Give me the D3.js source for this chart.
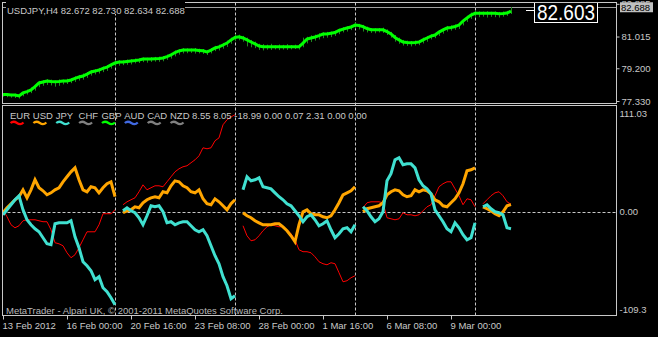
<!DOCTYPE html>
<html>
<head>
<meta charset="utf-8">
<script src="https://cdn.jsdelivr.net/npm/d3@7"></script>
<style>
  html, body { margin: 0; padding: 0; background: #000; }
  svg { display: block; background: #000; }
  text { font-family: "Liberation Sans", Arial, sans-serif; font-size: 9.5px; fill: #c8c8c8; }
</style>
</head>
<body>
<svg id="chart" width="658" height="337"></svg>
<script>
// ---- data (USDJPY H4, 128 bars) ----
const symbolTitle = "USDJPY,H4";
const ohlcNow = ["82.672", "82.730", "82.634", "82.688"];
const bidPrice = 82.688;
const bigLabel = "82.603";

// thick green line, one value per bar
const priceLine = [
  77.70,77.70,77.67,77.67,77.62,77.79,77.87,77.96,78.15,78.36,
  78.42,78.47,78.44,78.43,78.44,78.47,78.47,78.53,78.62,78.70,
  78.76,78.87,78.99,79.04,79.10,79.19,79.27,79.39,79.50,79.56,
  79.56,79.59,79.62,79.64,79.67,79.73,79.73,79.73,79.75,79.76,
  79.79,79.87,79.96,80.10,80.19,80.24,80.24,80.24,80.24,80.22,
  80.20,80.13,80.24,80.36,80.42,80.53,80.64,80.82,80.96,81.00,
  80.93,80.82,80.70,80.59,80.47,80.43,80.43,80.43,80.43,80.43,
  80.43,80.43,80.43,80.43,80.43,80.64,80.87,80.93,80.99,81.07,
  81.16,81.16,81.20,81.24,81.36,81.44,81.50,81.56,81.67,81.64,
  81.58,81.47,81.40,81.40,81.40,81.40,81.30,81.16,80.96,80.82,
  80.70,80.67,80.66,80.67,80.70,80.82,80.93,81.04,81.10,81.27,
  81.39,81.50,81.53,81.59,81.67,81.90,82.07,82.24,82.34,82.34,
  82.34,82.34,82.34,82.34,82.32,82.33,82.36,82.47
];
const barHighs = [
  77.78,77.76,77.74,77.75,77.70,77.86,77.98,78.10,78.25,78.48,
  78.52,78.58,78.55,78.50,78.56,78.55,78.60,78.62,78.74,78.82,
  78.90,78.98,79.10,79.15,79.22,79.30,79.38,79.50,79.65,79.66,
  79.65,79.70,79.72,79.75,79.76,79.82,79.80,79.84,79.85,79.86,
  79.90,79.98,80.08,80.22,80.30,80.35,80.34,80.33,80.36,80.32,
  80.30,80.25,80.35,80.48,80.55,80.65,80.78,80.95,81.15,81.12,
  81.05,80.95,80.82,80.72,80.60,80.58,80.55,80.60,80.52,80.56,
  80.54,80.58,80.53,80.55,80.58,80.95,81.00,81.08,81.12,81.20,
  81.26,81.28,81.30,81.35,81.46,81.55,81.60,81.68,81.80,81.74,
  81.68,81.58,81.50,81.48,81.50,81.52,81.42,81.28,81.10,80.95,
  80.82,80.78,80.76,80.78,80.82,80.95,81.05,81.15,81.22,81.38,
  81.50,81.62,81.65,81.70,81.78,82.02,82.20,82.38,82.48,82.45,
  82.44,82.46,82.43,82.45,82.42,82.44,82.48,82.70
];
const barLows = [
  77.58,77.55,77.52,77.50,77.47,77.60,77.70,77.78,77.92,78.12,
  78.20,78.25,78.22,78.15,78.20,78.28,78.30,78.35,78.42,78.50,
  78.55,78.65,78.78,78.85,78.90,78.98,79.05,79.18,79.30,79.35,
  79.38,79.40,79.42,79.48,79.50,79.55,79.52,79.56,79.58,79.57,
  79.60,79.68,79.75,79.88,79.98,80.05,80.06,80.08,80.04,80.05,
  80.02,79.96,80.05,80.18,80.22,80.32,80.42,80.60,80.75,80.80,
  80.72,80.45,80.40,80.35,80.25,80.22,80.26,80.25,80.28,80.24,
  80.27,80.25,80.28,80.30,80.27,80.40,80.62,80.70,80.78,80.85,
  80.92,80.95,80.98,81.05,81.15,81.25,81.30,81.38,81.48,81.42,
  81.30,81.25,81.22,81.20,81.25,81.22,81.10,80.95,80.72,80.60,
  80.50,80.48,80.45,80.50,80.52,80.62,80.72,80.85,80.92,81.05,
  81.18,81.30,81.35,81.40,81.45,81.65,81.85,82.02,82.15,82.12,
  82.15,82.10,82.14,82.12,82.10,82.15,82.20,82.30
];

const priceTicks = [82.885, 81.015, 79.200, 77.330];

// time axis
const timeTickBars = [0, 16, 32, 48, 64, 80, 96, 112];
const timeLabels = ["13 Feb 2012", "16 Feb 00:00", "20 Feb 16:00", "23 Feb 08:00",
                    "28 Feb 00:00", "1 Mar 16:00", "6 Mar 08:00", "9 Mar 00:00"];
const weekStartBars = [28, 58, 88, 118];

// currency strength indicator (resets each week, null = gap)
const eurValues = [
  2.2,-5.6,-14.6,-18.0,-15.7,-10.1,-9.0,-9.0,-9.0,-10.1,
  -11.2,-11.2,-20.2,-34.8,-36.0,-38.2,-46.1,-51.7,-48.3,-40.4,
  -31.5,-22.5,-22.5,-22.5,-14.6,-2.2,-2.2,-2.2,2.2,null,
  7.9,11.2,13.5,15.7,22.5,30.3,24.7,27.0,29.2,29.2,
  28.1,33.7,39.3,44.9,48.3,50.6,51.7,55.1,58.4,62.9,
  71.9,70.8,71.9,79.8,83.1,97.8,103.4,106.7,109.0,null,
  -15.7,-27.0,-32.6,-31.5,-27.0,-21.3,-16.9,-14.6,-15.7,-16.9,
  -16.9,-20.2,-24.7,-31.5,-42.7,-44.9,-44.9,-46.1,-50.6,-56.2,
  -58.4,-59.6,-57.3,-58.4,-68.5,-78.7,-77.5,-74.2,-71.9,null,
  4.5,10.1,11.2,11.2,11.2,10.1,-6.7,-7.9,-9.0,-7.9,
  -1.1,-3.4,-3.4,-4.5,-3.4,1.1,5.6,7.9,18.0,28.1,
  31.5,33.7,33.7,25.8,18.0,7.9,14.6,13.5,5.6,null,
  9.0,13.5,18.0,21.3,22.5,18.0,11.2,8.55
];
const usdValues = [
  -1.1,4.5,9.0,13.5,16.9,24.7,15.7,24.7,36.0,27.0,
  23.6,19.1,21.3,24.7,27.0,33.7,39.3,44.9,49.4,36.0,
  24.7,22.5,28.1,27.0,21.3,27.0,31.5,33.7,16.9,null,
  -1.1,1.1,2.2,5.6,4.5,10.1,13.5,15.7,16.9,15.7,
  22.5,21.3,29.2,34.8,33.7,29.2,27.0,22.5,21.3,24.7,
  14.6,9.0,7.9,14.6,11.2,6.7,2.2,9.0,13.5,null,
  -1.1,-4.5,-6.7,-10.1,-12.4,-14.6,-14.6,-14.6,-13.5,-13.5,
  -16.9,-21.3,-27.0,-33.7,-14.6,0,2.2,-2.2,-3.4,-3.4,
  -5.6,-6.7,-4.5,2.2,10.1,19.1,21.3,23.6,28.1,null,
  0,3.4,4.5,5.6,6.7,10.1,19.1,22.5,24.7,23.6,
  19.1,16.9,18.0,24.7,22.5,24.7,23.6,20.2,13.5,11.2,
  6.7,5.6,10.1,14.6,21.3,31.5,46.1,47.2,49.4,null,
  5.6,3.4,1.1,-2.2,-4.5,0,6.7,8.05
];
const jpyValues = [
  -3.4,2.2,7.9,13.5,18.0,2.2,-9.0,-14.6,-19.1,-22.5,
  -29.2,-36.0,-37.1,-13.5,-12.4,-12.4,-12.4,-10.1,-28.1,-40.4,
  -56.2,-60.7,-66.3,-76.4,-73.0,-85.4,-89.9,-96.6,-104.5,null,
  1.1,4.5,1.1,-1.1,-6.7,-14.6,-4.5,6.7,5.6,6.7,
  0,-12.4,-11.2,-14.6,-12.4,-11.2,-11.2,-15.7,-20.2,-22.5,
  -20.2,-27.0,-38.2,-49.4,-58.4,-73.0,-83.1,-97.8,-94.4,null,
  24.7,39.3,34.8,36.0,38.2,28.1,27.0,25.8,21.3,16.9,
  13.5,9.0,6.7,1.1,-4.5,-11.2,-5.6,-3.4,-9.0,-15.7,
  -13.5,-10.1,-20.2,-29.2,-24.7,-19.1,-18.0,-22.5,-14.6,null,
  5.6,1.1,-5.6,-11.2,-7.9,0,34.8,42.7,58.4,60.7,
  52.8,53.9,53.9,49.4,36.0,29.2,25.8,20.2,2.2,-4.5,
  -11.2,-19.1,-22.5,-12.4,-18.0,-25.8,-31.5,-29.2,-12.4,null,
  5.6,7.9,3.4,0,-1.1,-3.4,-18.0,-18.99
];

const currencies = ["EUR", "USD", "JPY", "CHF", "GBP", "AUD", "CAD", "NZD"];
const currencyColors = ["#ff0000", "#ffa500", "#40e0d0", "#808080", "#00ff00", "#4169e1", "#808080", "#808080"];
const legendValues = ["8.55", "8.05", "-18.99", "0.00", "0.07", "2.31", "0.00", "0.00"];
const indicatorTicks = [111.03, 0, -109.3];
const indicatorTickLabels = ["111.03", "0.00", "-109.3"];
const copyright = "MetaTrader - Alpari UK, \u00a9 2001-2011 MetaQuotes Software Corp.";

// ---- layout ----
const frameColor = "#c8c8c8";
const left = 2.5, right = 616.5;
const topPanel = { top: 2.5, bottom: 103.5 };
const botPanel = { top: 105.5, bottom: 315.5 };

const svg = d3.select("#chart");

const x = d3.scaleLinear().domain([0, priceLine.length - 1]).range([3, 511]);
const yPrice = d3.scaleLinear().domain([77.33, 82.885]).range([101, 3.8]);
const yInd = d3.scaleLinear().domain([-109.3, 111.03]).range([309, 113]);

// clip paths for the two panes
const defs = svg.append("defs");
defs.append("clipPath").attr("id", "clipTop").append("rect")
  .attr("x", left).attr("y", topPanel.top).attr("width", right - left).attr("height", topPanel.bottom - topPanel.top);
defs.append("clipPath").attr("id", "clipBot").append("rect")
  .attr("x", left).attr("y", botPanel.top).attr("width", right - left).attr("height", botPanel.bottom - botPanel.top);

// week separators (both panes)
svg.append("g").selectAll("line").data(weekStartBars).join("line")
  .attr("x1", d => Math.round(x(d)) + 0.5).attr("x2", d => Math.round(x(d)) + 0.5)
  .attr("y1", topPanel.top).attr("y2", botPanel.bottom)
  .attr("stroke", frameColor).attr("stroke-dasharray", "3,2");

// ---- top pane: price ----
const pricePane = svg.append("g").attr("clip-path", "url(#clipTop)");

// bid line
pricePane.append("line")
  .attr("x1", left).attr("x2", right)
  .attr("y1", Math.round(yPrice(bidPrice)) + 0.5).attr("y2", Math.round(yPrice(bidPrice)) + 0.5)
  .attr("stroke", "#a0a0a0");

// high-low bars
pricePane.append("g").selectAll("line").data(priceLine).join("line")
  .attr("x1", (d, i) => Math.round(x(i)) + 0.5).attr("x2", (d, i) => Math.round(x(i)) + 0.5)
  .attr("y1", (d, i) => yPrice(barHighs[i])).attr("y2", (d, i) => yPrice(barLows[i]))
  .attr("stroke", "#1f8a1f").attr("stroke-width", 1);

pricePane.append("path")
  .datum(priceLine)
  .attr("fill", "none").attr("stroke", "#00ff00").attr("stroke-width", 3)
  .attr("d", d3.line().x((d, i) => x(i)).y(d => yPrice(d)));

// header label with black background
const header = svg.append("g");
header.append("rect").attr("x", 6).attr("y", 0).attr("width", 179).attr("height", 14).attr("fill", "#000");
header.append("text").attr("x", 7).attr("y", 14)
  .text(symbolTitle + "  " + ohlcNow.join(" "));

// big price label
svg.append("line").attr("x1", 526).attr("x2", 535).attr("y1", 10.5).attr("y2", 10.5).attr("stroke", "#fff");
svg.append("rect").attr("x", 534.5).attr("y", 2.5).attr("width", 63).attr("height", 20)
  .attr("fill", "#000").attr("stroke", "#fff");
svg.append("text").attr("x", 537).attr("y", 20)
  .attr("textLength", 58).attr("lengthAdjust", "spacingAndGlyphs")
  .style("font-size", "22px").style("fill", "#fff")
  .text(bigLabel);

// price axis
const priceAxis = svg.append("g").attr("transform", `translate(${right},0)`)
  .call(d3.axisRight(yPrice).tickValues(priceTicks).tickSize(3).tickPadding(2).tickFormat(d3.format(".3f")));
priceAxis.select(".domain").remove();
priceAxis.selectAll("line").attr("stroke", frameColor);
priceAxis.selectAll("text").attr("fill", null);
priceAxis.attr("font-size", null).attr("font-family", null);

// bid price highlight on axis
const bidY = yPrice(bidPrice);
svg.append("rect").attr("x", 620).attr("y", bidY - 5).attr("width", 33).attr("height", 10).attr("fill", "#c0c0c0");
svg.append("text").attr("x", 621).attr("y", bidY + 3.5).style("fill", "#000").text(bidPrice.toFixed(3));

// ---- bottom pane: currency strength ----
const indPane = svg.append("g").attr("clip-path", "url(#clipBot)");

indPane.append("line")
  .attr("x1", left).attr("x2", right)
  .attr("y1", Math.round(yInd(0)) + 0.5).attr("y2", Math.round(yInd(0)) + 0.5)
  .attr("stroke", frameColor).attr("stroke-dasharray", "3,2");

const indLine = d3.line().defined(d => d != null).x((d, i) => x(i)).y(d => yInd(d));
const series = [
  { values: eurValues, color: currencyColors[0], width: 1 },
  { values: usdValues, color: currencyColors[1], width: 3 },
  { values: jpyValues, color: currencyColors[2], width: 3 }
];
indPane.selectAll("path.series").data(series).join("path")
  .attr("class", "series")
  .attr("fill", "none")
  .attr("stroke", d => d.color)
  .attr("stroke-width", d => d.width)
  .attr("d", d => indLine(d.values));

// legend: names, colour squiggles, last values
const legendX = d3.scalePoint().domain(currencies).range([10, 170]);
const legend = svg.append("g");
legend.selectAll("text.name").data(currencies).join("text")
  .attr("class", "name")
  .attr("x", d => legendX(d)).attr("y", 119)
  .text(d => d);
legend.selectAll("path.wave").data(currencies).join("path")
  .attr("class", "wave")
  .attr("fill", "none")
  .attr("stroke", (d, i) => currencyColors[i])
  .attr("stroke-width", 2.2)
  .attr("d", d => {
    const x0 = legendX(d) + 0.5, y0 = 123;
    return `M${x0},${y0} Q${x0 + 3},${y0 - 2.5} ${x0 + 6.5},${y0} T${x0 + 13},${y0 - 0.5}`;
  });
legend.append("text").attr("x", 192).attr("y", 119).text(legendValues.join(" "));

// indicator axis
const indAxis = svg.append("g").attr("transform", `translate(${right},0)`)
  .call(d3.axisRight(yInd).tickValues(indicatorTicks).tickSize(0).tickPadding(3)
    .tickFormat((d, i) => indicatorTickLabels[i]));
indAxis.select(".domain").remove();
indAxis.selectAll("text").attr("fill", null);
indAxis.attr("font-size", null).attr("font-family", null);

// copyright
svg.append("text").attr("x", 6).attr("y", 313.5).style("fill", "#b8b8b8").text(copyright);

// ---- time axis ----
const timeAxis = svg.append("g").attr("transform", `translate(0,${botPanel.bottom})`)
  .call(d3.axisBottom(x).tickValues(timeTickBars).tickSize(4).tickPadding(3)
    .tickFormat((d, i) => timeLabels[i]));
timeAxis.select(".domain").remove();
timeAxis.selectAll("line").attr("stroke", frameColor);
timeAxis.selectAll("text").attr("fill", null).attr("text-anchor", "start").attr("dx", -1);
timeAxis.attr("font-size", null).attr("font-family", null).attr("text-anchor", null);

// ---- frames ----
const frames = svg.append("g").attr("fill", "none").attr("stroke", frameColor);
frames.append("rect").attr("x", left).attr("y", topPanel.top)
  .attr("width", right - left).attr("height", topPanel.bottom - topPanel.top);
frames.append("rect").attr("x", left).attr("y", botPanel.top)
  .attr("width", right - left).attr("height", botPanel.bottom - botPanel.top);
header.raise();
</script>
</body>
</html>
